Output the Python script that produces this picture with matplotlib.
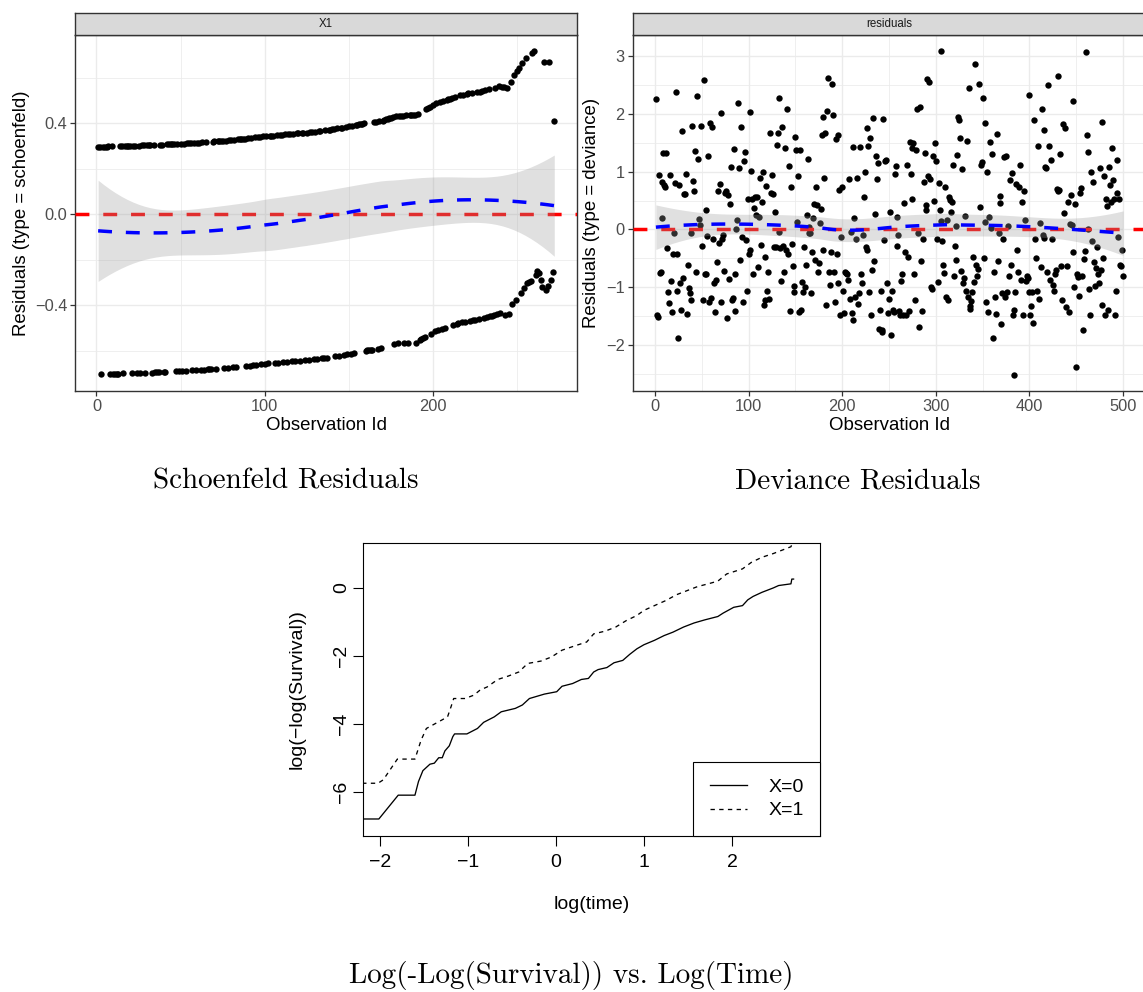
import numpy as np
import matplotlib
matplotlib.use("Agg")
import matplotlib.pyplot as plt
from matplotlib.lines import Line2D

SANS = ["Liberation Sans", "DejaVu Sans"]
plt.rcParams["font.family"] = SANS
plt.rcParams["axes.unicode_minus"] = True

# ---------------- data ----------------
# Schoenfeld residuals for X1, in observation order
sch_res = [
    0.295, 0.295, -0.704, 0.296, 0.296, 0.296, 0.297, -0.703, 0.297, -0.703,
    -0.703, -0.702, -0.702, 0.298, 0.299, -0.701, 0.299, 0.300, 0.300, 0.300,
    -0.700, 0.300, 0.301, -0.699, 0.301, -0.699, 0.302, 0.302, -0.698, 0.302,
    0.302, 0.303, -0.697, 0.303, -0.696, -0.696, -0.696, 0.305, 0.305, -0.695,
    -0.695, 0.306, 0.306, 0.307, 0.307, 0.308, -0.692, 0.308, -0.691, 0.309,
    -0.690, 0.310, -0.689, 0.311, 0.312, 0.312, -0.687, 0.313, -0.686, 0.314,
    0.314, -0.685, 0.315, -0.684, 0.316, -0.683, -0.683, -0.682, 0.318, 0.319,
    -0.680, 0.320, 0.321, 0.321, 0.322, -0.678, 0.323, -0.677, 0.324, 0.325,
    -0.674, 0.327, -0.673, 0.328, 0.329, 0.330, 0.330, 0.331, -0.668, 0.333,
    -0.666, 0.335, -0.664, 0.337, -0.663, 0.338, 0.339, -0.660, 0.341, -0.658,
    0.343, -0.657, 0.344, 0.344, 0.345, -0.655, 0.346, -0.653, 0.347, 0.348,
    -0.651, 0.350, -0.650, 0.351, 0.352, -0.648, 0.353, -0.646, 0.354, 0.355,
    -0.644, 0.356, 0.357, -0.642, 0.358, -0.641, 0.360, 0.360, -0.639, 0.362,
    -0.637, 0.364, 0.365, -0.634, -0.633, 0.368, -0.631, 0.370, 0.371, 0.372,
    0.373, -0.626, 0.376, -0.623, 0.378, 0.380, -0.619, 0.382, -0.616, 0.385,
    -0.614, 0.388, -0.611, 0.391, 0.392, 0.394, 0.395, 0.397, 0.398, -0.600,
    -0.598, -0.597, -0.596, -0.596, 0.405, 0.406, -0.593, 0.408, -0.591, 0.410,
    0.415, 0.417, 0.419, 0.421, 0.423, 0.425, -0.573, 0.429, -0.569, 0.432,
    0.433, 0.433, -0.567, 0.434, -0.566, 0.434, 0.434, 0.435, 0.435, -0.565,
    0.440, -0.555, -0.550, -0.545, -0.542, 0.462, 0.466, 0.470, -0.526, 0.478,
    -0.515, 0.488, -0.510, 0.493, -0.504, 0.499, -0.499, 0.503, 0.504, 0.505,
    0.512, -0.486, 0.516, -0.482, -0.480, 0.522, -0.476, 0.525, -0.473, 0.528,
    0.530, -0.469, 0.532, -0.467, -0.466, 0.536, -0.463, 0.538, 0.540, -0.458,
    0.544, -0.454, 0.548, -0.450, -0.448, -0.446, 0.556, -0.441, 0.561, -0.437,
    0.560, 0.558, -0.445, 0.552, -0.440, 0.580, -0.395, 0.610, -0.380, 0.630,
    0.640, -0.345, 0.665, -0.325, 0.685, -0.305, -0.300, -0.295, 0.710, 0.715,
    -0.270, -0.250, -0.260, -0.290, -0.320, 0.670, -0.335, -0.315, 0.670, -0.290,
    -0.256, 0.410,
]

# Deviance residuals, in observation order
dev_res = [
    2.26, -1.49, -1.51, 0.95, -0.76, -0.74, 0.20, 0.83, 1.33, 0.77,
    0.74, 1.33, -0.33, -1.09, -1.28, 0.94, -0.90, -1.43, -0.42, -0.07,
    0.81, 2.39, -1.07, -0.42, -1.89, 0.77, -0.93, -1.39, 1.70, -0.84,
    0.61, 0.62, 0.96, -1.46, -0.62, -1.01, -1.10, -1.23, -0.06,
    1.80, 0.84, 0.67, 1.36, -0.74, 2.32, 1.22, 0.18, 0.07, 1.79,
    -0.28, -1.22, 2.59, -0.78, 0.33, -0.78, -0.12, 1.27, -1.26, 1.85,
    -1.19, 1.78, -0.16, -0.93, -1.43, -0.88, -0.57, 0.67, -0.24, 0.78,
    -1.26, 2.01, -0.17, -0.10, -0.72, 0.63, 0.66, -1.54, 0.60,
    -0.86, 0.44, 1.09, -1.22, -1.19, 1.40, -0.78, -1.42, 0.00, 0.16,
    2.20, 1.07, -0.53, 1.77, -0.13, -1.26, 1.19, 1.35, -0.19, -1.06,
    0.53, -0.42, -0.36, 2.03, 1.02, 0.53, -0.78, 0.37, 0.56, 0.25,
    0.57, -0.65, 0.21, 0.90, -0.27, 0.47, 1.00, -1.31, -0.48, -1.22,
    0.76, -1.07, -0.74, -1.21, 1.67, 0.64, 0.95, 0.61, -0.31, 0.30,
    -0.30, 1.47, 1.67, -0.05, 2.28, -0.32, -0.89, 1.78, -0.28,
    -0.74, 1.42, -0.36, 2.08, -0.42, 1.10, -1.41, 0.74, -0.25, -0.64,
    -1.09, -0.98, 1.61, 1.38, 0.13, 0.93, -1.43, 1.37, -1.39, -0.91,
    -1.09, -0.30, -1.00, -0.62, 0.25, 1.22, 0.05, -0.07, -0.06, -1.10,
    -0.39, 0.19, 0.44, -0.53, 0.73, 0.42, -0.74, -0.59, 0.12,
    0.35, 1.63, 1.95, -0.36, 0.90, 1.68, -1.31, 2.05, 2.62, -0.74,
    -0.96, -0.39, 2.52, 1.98, -0.74, -1.26, 1.57, -0.42, 1.64,
    -0.93, 0.68, -1.49, -0.13, 0.73, -1.06, -1.44, -0.73, -0.75, -0.78,
    -0.88, 0.88, -1.20, -0.05, -1.45, 1.43, -1.57, 0.20, -1.17, -0.16,
    0.89, -1.30, -1.10, 1.43, -0.77, -0.92, -0.09, 0.57, 0.99, -0.31,
    -0.35, 1.76, 1.44, -1.09, 1.58, -1.49, -0.71, 1.93, -0.55, 0.26,
    1.27, 0.88, 1.16, -1.72, -1.39, -1.07, -1.77, -1.74, 1.91, -0.19,
    1.18, 1.21, -0.93, -1.45, -1.20, 0.30, -1.83, -1.07, -1.39,
    -1.43, 0.96, 1.10, -0.28, 0.21, -0.09, -1.42, -1.49, -0.89, -0.78,
    -1.48, 0.46, -0.39, -1.49, 1.11, -0.48, -1.42, 1.51, 0.96,
    0.53, 1.41, 1.49, -0.78, -1.22, 1.38, 2.08, -0.07, -1.69, 2.12,
    -0.55, -1.42, -0.16, 0.83, 1.33, 0.42, 0.33, 2.61, 0.93, 2.55, 0.88,
    -0.99, -1.03, 1.28, 0.50, 1.50, 1.19, -0.17, -0.91, 0.81, 0.33,
    3.09, 0.15, -0.20, -0.62, -0.75, 0.73, -1.17, 0.17, -1.22,
    0.57, 0.51, 0.31, 0.48, 1.11, -0.80, -0.28, 0.06, -0.53, 1.29,
    1.95, 1.90, 1.58, -0.72, 1.05, -0.93, -0.85, 0.23, -1.07,
    1.54, -1.17, 2.45, -1.38, -1.32, -1.24, -1.09, -0.48, -0.91, 2.87,
    -0.62, -0.81, -0.68, 2.52, 0.39, 1.12, 1.17, 2.28, -0.49,
    1.85, 0.13, -1.26, 1.00, -1.43, 0.21, 1.51, 0.02, 1.30, -1.89,
    -0.74, -1.17, -1.47, 1.65, -0.55, -0.07, 0.58, 0.46, -1.64,
    -1.10, -0.17, 1.26, -1.17, 1.28, -1.09, 0.06, -0.81, 0.85, -0.62,
    0.98, -1.49, -1.40, -2.52, -1.09, 0.79, -0.36, -0.73, 0.73,
    1.11, -0.88, 0.48, -1.49, 0.67, 0.16, -0.89, -0.80, -0.85, -1.09,
    2.33, -1.49, -1.32, -1.09, -1.62, 1.90, -0.17, -0.49, -1.06,
    1.45, -1.20, 0.12, -0.65, 2.09, -0.09, -0.14, 1.73, 1.09, 1.07,
    -0.74, 2.50, 1.45, -0.88, 1.21, -0.16, -0.97, -1.07, -0.78,
    -0.70, 0.70, 2.66, 0.67, 0.68, 1.31, -0.63, -1.23, 1.83, 0.28,
    1.75, -1.34, -0.64, 0.48, -1.43, 0.09, 0.59, 0.07, -0.39,
    2.23, -1.00, 0.44, -2.39, -0.78, -0.82, -1.15, 0.63, 0.71, -0.81,
    -1.74, -0.52, -0.37, 3.08, 1.63, 0.01, 1.34, -1.03, -1.49,
    1.00, -0.20, 0.82, -0.56, -0.98, -0.66, -0.30, -0.78, -0.93, 1.06,
    -0.70, -1.31, 1.87, -0.49, 0.93, -1.49, 0.53, 0.41, -1.40,
    1.09, 0.77, 0.48, 1.41, 0.86, 0.52, -1.49, -1.07, 1.20, 0.63,
    -0.13, 0.53, -0.62, -0.63, -0.36, -0.80,
]

# log(-log(S)) vs log(time) curves
g0_logt = [-2.20, -2.01, -1.79, -1.60, -1.56, -1.51, -1.43, -1.38, -1.33, -1.29,
           -1.26, -1.21, -1.17, -1.15, -1.01, -0.89, -0.82, -0.70, -0.62, -0.46,
           -0.38, -0.30, -0.13, 0.01, 0.07, 0.19, 0.29, 0.37, 0.43, 0.48,
           0.58, 0.66, 0.76, 0.84, 0.92, 1.00, 1.12, 1.23, 1.33, 1.45,
           1.57, 1.69, 1.84, 1.90, 2.02, 2.12, 2.18, 2.24, 2.34, 2.47,
           2.53, 2.67, 2.68, 2.70]
g0_val = [-6.79, -6.79, -6.09, -6.09, -5.69, -5.37, -5.18, -5.15, -4.99, -4.99,
          -4.79, -4.64, -4.37, -4.29, -4.29, -4.13, -3.95, -3.79, -3.64, -3.54,
          -3.44, -3.25, -3.12, -3.05, -2.89, -2.81, -2.69, -2.66, -2.47, -2.40,
          -2.34, -2.20, -2.13, -1.95, -1.79, -1.67, -1.54, -1.40, -1.30, -1.15,
          -1.03, -0.94, -0.84, -0.74, -0.57, -0.52, -0.35, -0.25, -0.13, 0.00,
          0.07, 0.12, 0.26, 0.26]
g1_logt = [-2.20, -2.02, -1.96, -1.80, -1.60, -1.53, -1.47, -1.35, -1.23, -1.19,
           -1.16, -1.03, -0.93, -0.86, -0.78, -0.66, -0.54, -0.42, -0.32, -0.17,
           -0.05, 0.07, 0.23, 0.35, 0.43, 0.56, 0.68, 0.80, 0.92, 1.00,
           1.12, 1.25, 1.37, 1.49, 1.61, 1.73, 1.84, 1.94, 2.12, 2.22,
           2.34, 2.47, 2.55, 2.67, 2.70]
g1_val = [-5.74, -5.74, -5.64, -5.03, -5.03, -4.47, -4.13, -3.96, -3.79, -3.49,
          -3.25, -3.25, -3.15, -3.00, -2.91, -2.69, -2.59, -2.47, -2.22, -2.15,
          -2.03, -1.83, -1.69, -1.59, -1.35, -1.27, -1.15, -0.96, -0.81, -0.66,
          -0.52, -0.37, -0.20, -0.08, 0.04, 0.12, 0.20, 0.41, 0.56, 0.75,
          0.90, 1.01, 1.09, 1.21, 1.40]
legend_labels = ["X=0", "X=1"]


# ---------------- helpers ----------------
def loess_band(x, y, xg, span=0.75, tq=1.965):
    x = np.asarray(x, float)
    y = np.asarray(y, float)
    n = len(x)
    q = int(np.floor(n * span))

    def row(x0):
        d = np.abs(x - x0)
        h = np.sort(d)[q - 1]
        u = np.clip(d / h, 0, 1)
        w = (1 - u ** 3) ** 3
        B = np.vstack([np.ones(n), x - x0, (x - x0) ** 2]).T
        BW = B * w[:, None]
        M = B.T @ BW
        return np.linalg.solve(M, BW.T)[0]

    L = np.array([row(v) for v in x])
    res = y - L @ y
    IL = np.eye(n) - L
    d1 = np.trace(IL.T @ IL)
    sigma = np.sqrt(np.sum(res ** 2) / d1)
    Lg = np.array([row(v) for v in xg])
    fit = Lg @ y
    se = sigma * np.sqrt(np.sum(Lg ** 2, axis=1))
    return fit, fit - tq * se, fit + tq * se


W, H = 1143, 992
fig = plt.figure(figsize=(W / 100, H / 100), dpi=100)


def px_axes(l, t, r, b):
    return fig.add_axes([l / W, 1 - b / H, (r - l) / W, (b - t) / H])


DASH = (0, (4, 4))


def gg_panel(l, r, strip_label, yvals, xlim, ylim, xmaj, xmin, ymaj, ymin,
             ylabels, ylab):
    ax = px_axes(l, 35, r, 391)
    x = np.arange(1, len(yvals) + 1)
    y = np.asarray(yvals)
    ax.set_xlim(xlim)
    ax.set_ylim(ylim)
    ax.set_xticks(xmaj, labels=[str(v) for v in xmaj])
    ax.set_xticks(xmin, minor=True)
    ax.set_yticks(ymaj, labels=ylabels)
    ax.set_yticks(ymin, minor=True)
    ax.set_axisbelow(True)
    ax.grid(which="major", color="#EBEBEB", lw=1.0)
    ax.grid(which="minor", color="#EBEBEB", lw=0.55)
    ax.tick_params(which="minor", length=0)
    ax.tick_params(which="major", length=3.4, width=0.9, color="#333333",
                   labelcolor="#4D4D4D", labelsize=11.8, pad=2.2)
    for s in ax.spines.values():
        s.set_color("#333333")
        s.set_linewidth(1.0)
    ax.scatter(x, y, s=21, color="black", linewidths=0, zorder=2)
    ax.axhline(0, color="red", lw=2.5, ls=DASH, zorder=3)
    xg = np.linspace(x.min(), x.max(), 80)
    fit, lo, hi = loess_band(x, y, xg)
    ax.fill_between(xg, lo, hi, color="#999999", alpha=0.3, lw=0, zorder=4)
    ax.plot(xg, fit, color="blue", lw=2.5, ls=DASH, zorder=5)
    ax.set_xlabel("Observation Id", fontsize=13.4, labelpad=2)
    ax.set_ylabel(ylab, fontsize=13.4, labelpad=4)

    st = px_axes(l, 12.5, r, 35)
    st.set_facecolor("#D9D9D9")
    st.set_xticks([])
    st.set_yticks([])
    for s in st.spines.values():
        s.set_color("#333333")
        s.set_linewidth(1.0)
    st.text(0.5, 0.5, strip_label, ha="center", va="center", fontsize=8.3,
            color="#1A1A1A", transform=st.transAxes)
    return ax


gg_panel(75.4, 577, "X1", sch_res, (-12.5, 285.5), (-0.778, 0.787),
         [0, 100, 200], [50, 150, 250], [-0.4, 0.0, 0.4],
         [-0.6, -0.2, 0.2, 0.6], ["\u22120.4", "0.0", "0.4"],
         "Residuals (type = schoenfeld)")

gg_panel(632.5, 1146.5, "residuals", dev_res, (-24, 525), (-2.80, 3.37),
         [0, 100, 200, 300, 400, 500], [50, 150, 250, 350, 450],
         [-2, -1, 0, 1, 2, 3], [-2.5, -1.5, -0.5, 0.5, 1.5, 2.5],
         ["\u22122", "\u22121", "0", "1", "2", "3"],
         "Residuals (type = deviance)")

# ---------------- bottom base-R style panel ----------------
ax3 = px_axes(363, 543, 820, 836)
ax3.set_xlim(-2.19, 3.0)
ax3.set_ylim(-7.29, 1.32)
ax3.plot(g0_logt, g0_val, color="black", lw=0.95, ls="-")
ax3.plot(g1_logt, g1_val, color="black", lw=0.95, ls=(0, (3.3, 3.3)))
ax3.set_xticks([-2, -1, 0, 1, 2], labels=["\u22122", "\u22121", "0", "1", "2"])
ax3.set_yticks([-6, -4, -2, 0], labels=["\u22126", "\u22124", "\u22122", "0"])
ax3.tick_params(axis="both", length=7.2, width=0.8, labelsize=14)
ax3.tick_params(axis="x", pad=6)
ax3.tick_params(axis="y", pad=2, labelrotation=90)
for lab in ax3.get_yticklabels():
    lab.set_va("center")
for s in ax3.spines.values():
    s.set_linewidth(0.8)
ax3.set_xlabel("log(time)", fontsize=14, labelpad=18)
ax3.set_ylabel("log(\u2212log(Survival))", fontsize=14, labelpad=20)
handles = [Line2D([], [], color="black", lw=0.95, ls="-"),
           Line2D([], [], color="black", lw=0.95, ls=(0, (3.3, 3.3)))]
leg = ax3.legend(handles, legend_labels, loc="lower right", borderaxespad=0,
                 fancybox=False, edgecolor="black", framealpha=1, fontsize=14,
                 handlelength=1.9, handletextpad=1.1, borderpad=0.85,
                 labelspacing=0.3)
leg.get_frame().set_linewidth(0.8)

# ---------------- captions ----------------
CAP = ["cmr10", "DejaVu Serif"]
fig.text(286 / W, 1 - 481 / H, "Schoenfeld Residuals", family=CAP,
         fontsize=21, ha="center", va="center")
fig.text(858 / W, 1 - 481 / H, "Deviance Residuals", family=CAP,
         fontsize=21, ha="center", va="center")
fig.text(571 / W, 1 - 975 / H, "Log(-Log(Survival)) vs. Log(Time)",
         family=CAP, fontsize=21, ha="center", va="center")

fig.savefig("out.png", dpi=100)
